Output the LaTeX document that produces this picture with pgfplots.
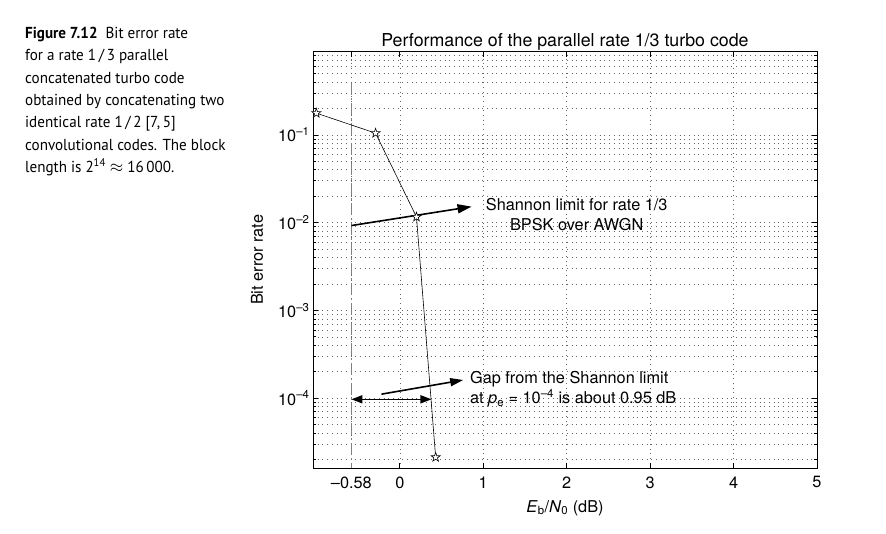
\documentclass[border=0pt]{standalone}
\usepackage{fontspec}
\setmainfont{TeX Gyre Heros}
\newfontfamily\capfont[FakeStretch=0.95]{PT Sans}
\usepackage{pgfplots}
\pgfplotsset{compat=1.18}
\usetikzlibrary{arrows.meta}

% open five-pointed star, as MATLAB's 'p' marker
\pgfdeclareplotmark{pentagram}{%
  \pgfpathmoveto{\pgfpointpolar{90}{\pgfplotmarksize}}%
  \pgfpathlineto{\pgfpointpolar{126}{0.4\pgfplotmarksize}}%
  \pgfpathlineto{\pgfpointpolar{162}{\pgfplotmarksize}}%
  \pgfpathlineto{\pgfpointpolar{198}{0.4\pgfplotmarksize}}%
  \pgfpathlineto{\pgfpointpolar{234}{\pgfplotmarksize}}%
  \pgfpathlineto{\pgfpointpolar{270}{0.4\pgfplotmarksize}}%
  \pgfpathlineto{\pgfpointpolar{306}{\pgfplotmarksize}}%
  \pgfpathlineto{\pgfpointpolar{342}{0.4\pgfplotmarksize}}%
  \pgfpathlineto{\pgfpointpolar{18}{\pgfplotmarksize}}%
  \pgfpathlineto{\pgfpointpolar{54}{0.4\pgfplotmarksize}}%
  \pgfpathclose
  \pgfusepathqfillstroke}

\newcommand\fs{\fontsize{16.3}{20}\selectfont}

\begin{document}
\begin{tikzpicture}[x=1pt,y=1pt]
\useasboundingbox (0,0) rectangle (886,533);

\node[anchor=north west, align=left, inner sep=0,
      font=\capfont\fontsize{15.9}{22.3}\selectfont] at (25,506)
  {\textbf{Figure 7.12}\ \ Bit error rate\\
   for a rate 1\,/\,3 parallel\\
   concatenated turbo code\\
   obtained by concatenating two\\
   identical rate 1\,/\,2 [7,\,5]\\
   convolutional codes. The block\\
   length is 2\textsuperscript{14} $\approx$ 16\,000.};

\begin{axis}[
    at={(313pt,65pt)}, anchor=south west,
    scale only axis, width=504pt, height=416.3pt,
    xmin=-1.04, xmax=5,
    ymode=log, ymin=1.6e-5, ymax=0.885,
    xtick={-0.58,0,1,2,3,4,5},
    xticklabels={--0.58,0,1,2,3,4,5},
    ytick={1e-4,1e-3,1e-2,1e-1},
    yticklabels={10\textsuperscript{--4},10\textsuperscript{--3},10\textsuperscript{--2},10\textsuperscript{--1}},
    minor ytick={2e-5,3e-5,4e-5,5e-5,6e-5,7e-5,8e-5,9e-5,
                 2e-4,3e-4,4e-4,5e-4,6e-4,7e-4,8e-4,9e-4,
                 2e-3,3e-3,4e-3,5e-3,6e-3,7e-3,8e-3,9e-3,
                 2e-2,3e-2,4e-2,5e-2,6e-2,7e-2,8e-2,9e-2,
                 2e-1,3e-1,4e-1,5e-1,6e-1,7e-1,8e-1},
    tick align=inside,
    major tick length=5pt, minor tick length=3pt,
    axis line style={line width=1pt},
    every tick/.style={black, line width=0.6pt},
    xmajorgrids, ymajorgrids, yminorgrids,
    major grid style={black!60, line width=0.5pt, dash pattern=on 0.5pt off 4.2pt},
    minor grid style={black!60, line width=0.5pt, dash pattern=on 0.5pt off 4.2pt},
    tick label style={font=\fs},
    xticklabel style={yshift=-5pt},
    label style={font=\fs},
    title style={font=\fontsize{17.8}{21}\selectfont, yshift=-8pt},
    title={Performance of the parallel rate 1/3 turbo code},
    xlabel={\textit{E}\textsubscript{b}/\textit{N}\textsubscript{0} (dB)},
    ylabel={Bit error rate},
    xlabel style={at={(axis description cs:0.5,-0.096)}, anchor=center},
    ylabel style={at={(axis description cs:-0.111,0.5)}, anchor=center},
]
% Shannon limit for rate 1/3 BPSK
\addplot[black!50, line width=1.6pt, dash pattern=on 12pt off 3pt on 2pt off 3pt]
  coordinates {(-0.58,0.387) (-0.58,1.6e-5)};

\addplot[black, line width=0.6pt, mark=pentagram, mark size=4.8pt,
         mark options={fill=white, line width=0.6pt, solid}]
  coordinates {(-1.0,0.1765) (-0.29,0.1045) (0.2,0.0116) (0.43,2.12e-5)};

\draw[line width=1.6pt, -{Triangle[length=14pt,width=9pt]}]
  (axis cs:-0.58,0.00925) -- (axis cs:0.86,0.0152);
\node[align=center, font=\fs, inner sep=0] at (axis cs:2.12,0.01233)
  {Shannon limit for rate 1/3\\BPSK over AWGN};

\draw[line width=1.6pt, -{Triangle[length=13pt,width=8pt]}]
  (axis cs:-0.22,1.11e-4) -- (axis cs:0.76,1.61e-4);
\draw[line width=1.6pt, {Triangle[length=11pt,width=8pt]}-{Triangle[length=11pt,width=8pt]}]
  (axis cs:-0.58,9.7e-5) -- (axis cs:0.38,9.7e-5);
\node[align=left, anchor=west, font=\fs, inner sep=0] at (axis cs:0.84,1.265e-4)
  {Gap from the Shannon limit\\at \textit{p}\textsubscript{e} = 10\textsuperscript{--4} is about 0.95 dB};
\end{axis}
\end{tikzpicture}
\end{document}
